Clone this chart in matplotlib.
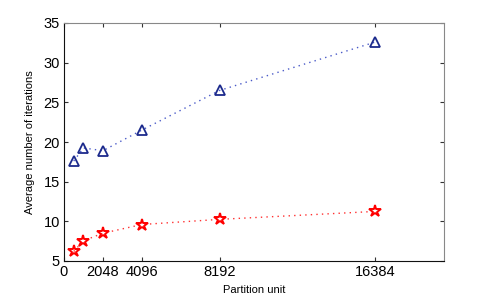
import matplotlib
matplotlib.use('Agg')
import matplotlib.pyplot as plt

partition = [512, 1024, 2048, 4096, 8192, 16384]
iters_blue = [17.6, 19.25, 18.9, 21.5, 26.5, 32.6]
iters_red = [6.2, 7.55, 8.5, 9.6, 10.25, 11.25]
xticks = [0, 2048, 4096, 8192, 16384]
yticks = [5, 10, 15, 20, 25, 30, 35]

plt.rcParams['font.family'] = ['Liberation Sans', 'DejaVu Sans']

fig = plt.figure(figsize=(4.91, 3.07), dpi=100)
ax = fig.add_axes([64 / 491, 1 - 261 / 307, 380 / 491, 238 / 307])

ax.plot(partition, iters_blue, linestyle=(0, (1, 3)), color='#4a5ac8', linewidth=1.0,
        marker='^', markersize=7, markerfacecolor='none',
        markeredgecolor='#1c2a8c', markeredgewidth=1.3)
ax.plot(partition, iters_red, linestyle=(0, (1, 3)), color='#ff3030', linewidth=1.0,
        marker='*', markersize=9, markerfacecolor='none',
        markeredgecolor='red', markeredgewidth=1.4)

ax.set_xlim(0, 20000)
ax.set_ylim(5, 35)
ax.set_xticks(xticks)
ax.set_yticks(yticks)
ax.tick_params(direction='in', length=3, labelsize=10.5, top=True, right=True,
               color='#333333', pad=3)

for side in ['top', 'right']:
    ax.spines[side].set_color('#888888')
for side in ['left', 'bottom']:
    ax.spines[side].set_color('#111111')

ax.set_xlabel('Partition unit', fontsize=8, labelpad=4)
ax.set_ylabel('Average number of iterations', fontsize=8, labelpad=6)

fig.savefig('out.png', dpi=100)
